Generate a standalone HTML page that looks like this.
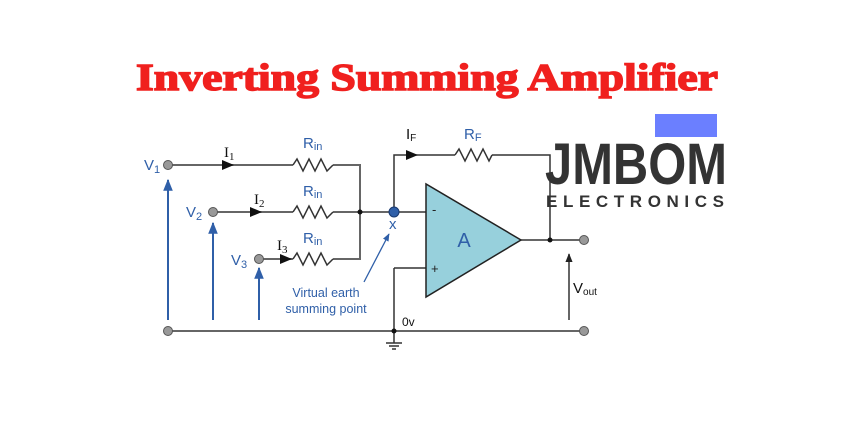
<!DOCTYPE html>
<html><head><meta charset="utf-8"><style>
html,body{margin:0;padding:0;background:#fff;width:858px;height:440px;overflow:hidden}
svg text{font-family:"Liberation Sans",Arial,sans-serif}
</style></head><body>
<svg width="858" height="440" viewBox="0 0 858 440" xmlns="http://www.w3.org/2000/svg">
<defs>
<marker id="ab" viewBox="0 0 10 10" refX="9" refY="5" markerWidth="6" markerHeight="6" orient="auto-start-reverse"><path d="M0,1 L10,5 L0,9 z" fill="#2f5fa8"/></marker>
<marker id="ak" viewBox="0 0 10 10" refX="9" refY="5" markerWidth="6" markerHeight="6" orient="auto"><path d="M0,1 L10,5 L0,9 z" fill="#222"/></marker>
</defs>
<text x="427" y="90" text-anchor="middle" textLength="582" lengthAdjust="spacingAndGlyphs" style="font-family:'Liberation Serif',serif;font-weight:bold;font-size:38px" fill="#f0201e" stroke="#f0201e" stroke-width="1.5">Inverting Summing Amplifier</text>

<g stroke="#666" stroke-width="2" fill="none">
<path d="M168,165 H293 M333,165 H360 V259 H333 M293,259 H259"/>
<path d="M213,212 H293 M333,212 H426"/>
<path d="M168,331 H584"/>
</g>
<g stroke="#333" stroke-width="1.5" fill="none">
<path d="M293,165 l4,-6 l6,12 l6,-12 l6,12 l6,-12 l6,12 l6,-6"/>
<path d="M293,212 l4,-6 l6,12 l6,-12 l6,12 l6,-12 l6,12 l6,-6"/>
<path d="M293,259 l4,-6 l6,12 l6,-12 l6,12 l6,-12 l6,12 l6,-6"/>
<path d="M455,155 l4,-6 l6,12 l6,-12 l6,12 l6,-12 l6,12 l3,-6"/>
<path d="M394,212 V155 H455 M492,155 H550 V240"/>
<path d="M394,268 H426 M394,268 V331 M394,331 V343"/>
<path d="M386,343 H402 M389,346 H399 M392,349 H396"/>
<path d="M521,240 H584"/>
</g>
<polygon points="426,184 426,297 521,240" fill="#97d0dc" stroke="#222" stroke-width="1.5"/>
<text x="464" y="247" font-size="20" fill="#2f5fa8" text-anchor="middle">A</text>
<text x="432" y="214" font-size="13" fill="#222">-</text>
<text x="431" y="273" font-size="13" fill="#222">+</text>
<g fill="#111">
<path d="M222,160 L234,165 L222,170 z"/>
<path d="M250,207 L262,212 L250,217 z"/>
<path d="M280,254 L292,259 L280,264 z"/>
<path d="M406,150 L418,155 L406,160 z"/>
</g>
<circle cx="360" cy="212" r="2.5" fill="#111"/>
<circle cx="550" cy="240" r="2.5" fill="#111"/>
<circle cx="394" cy="331" r="2.5" fill="#111"/>
<g fill="#999" stroke="#555" stroke-width="1">
<circle cx="168" cy="165" r="4.5"/><circle cx="213" cy="212" r="4.5"/><circle cx="259" cy="259" r="4.5"/>
<circle cx="168" cy="331" r="4.5"/><circle cx="584" cy="240" r="4.5"/><circle cx="584" cy="331" r="4.5"/>
</g>
<circle cx="394" cy="212" r="5" fill="#2f5fa8" stroke="#1a3a70" stroke-width="1"/>
<g stroke="#2f5fa8" stroke-width="2" fill="none" marker-end="url(#ab)">
<path d="M168,320 V180"/><path d="M213,320 V223"/><path d="M259,320 V268"/>
<path d="M364,282 L389,234" stroke-width="1.3"/>
</g>
<path d="M569,320 V254" stroke="#333" stroke-width="1.5" marker-end="url(#ak)"/>
<g fill="#2f5fa8" font-size="15">
<text x="144" y="170">V<tspan font-size="11" dy="3">1</tspan></text>
<text x="186" y="217">V<tspan font-size="11" dy="3">2</tspan></text>
<text x="231" y="265">V<tspan font-size="11" dy="3">3</tspan></text>
<text x="303" y="148">R<tspan font-size="11" dy="2">in</tspan></text>
<text x="303" y="196">R<tspan font-size="11" dy="2">in</tspan></text>
<text x="303" y="243">R<tspan font-size="11" dy="2">in</tspan></text>
<text x="464" y="139">R<tspan font-size="11" dy="2">F</tspan></text>
<text x="389" y="229" font-size="15">x</text>
<text x="326" y="297" font-size="12.5" text-anchor="middle">Virtual earth</text>
<text x="326" y="313" font-size="12.5" text-anchor="middle">summing point</text>
</g>
<g fill="#111" font-size="15">
<text x="224" y="157" style="font-family:'Liberation Serif',serif">I<tspan font-size="11" dy="3">1</tspan></text>
<text x="254" y="204" style="font-family:'Liberation Serif',serif">I<tspan font-size="11" dy="3">2</tspan></text>
<text x="277" y="250" style="font-family:'Liberation Serif',serif">I<tspan font-size="11" dy="3">3</tspan></text>
<text x="406" y="139">I<tspan font-size="10" dy="2">F</tspan></text>
<text x="573" y="293">V<tspan font-size="10" dy="2">out</tspan></text>
<text x="402" y="326" font-size="12">0v</text>
</g>
<rect x="655" y="114" width="62" height="23" fill="#6b7fff"/>
<text x="545" y="184" font-size="58" font-weight="bold" fill="#333" textLength="182" lengthAdjust="spacingAndGlyphs">JMBOM</text>
<text x="546" y="207" font-size="17" font-weight="bold" fill="#333" textLength="178" lengthAdjust="spacing">ELECTRONICS</text>
</svg>
</body></html>
